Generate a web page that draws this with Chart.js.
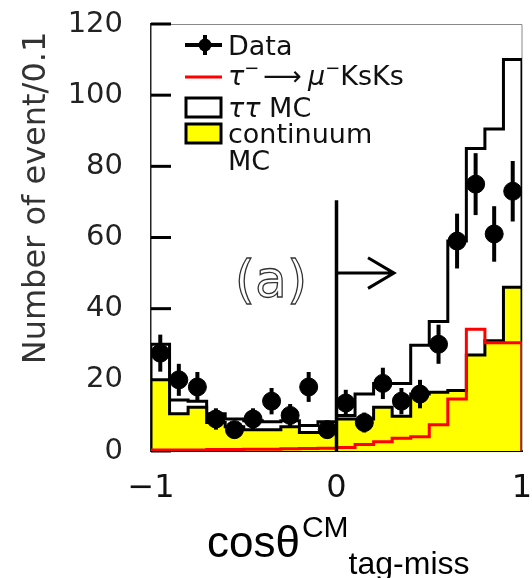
<!DOCTYPE html>
<html>
<head>
<meta charset="utf-8">
<script src="https://cdn.jsdelivr.net/npm/chart.js@4.4.1/dist/chart.umd.min.js"></script>
<style>
  html, body { margin: 0; padding: 0; background: #fff; }
  canvas { display: block; }
</style>
</head>
<body>
<canvas id="tagMiss" width="532" height="578"></canvas>
<script>
// bins of 0.1 in cos(theta) tag-miss
const binEdges = [-1, -0.9, -0.8, -0.7, -0.6, -0.5, -0.4, -0.3, -0.2, -0.1, 0,
  0.1, 0.2, 0.3, 0.4, 0.5, 0.6, 0.7, 0.8, 0.9, 1];
const binCenters = [-0.95, -0.85, -0.75, -0.65, -0.55, -0.45, -0.35, -0.25, -0.15, -0.05,
  0.05, 0.15, 0.25, 0.35, 0.45, 0.55, 0.65, 0.75, 0.85, 0.95];

const dataCounts = [27.5, 20, 18, 9, 6, 9, 14, 10, 18, 6,
  13.5, 8, 19, 14, 16, 30, 59, 75, 61, 73];
const dataErrors = [5.2, 4.5, 4.2, 3, 2.5, 3, 3.7, 3.2, 4.2, 2.5,
  3.7, 2.8, 4.4, 3.7, 4, 5.5, 7.7, 8.7, 7.8, 8.5];

// tau-tau MC stacked on top of continuum (outer outline)
const ttTotal = [30, 14.3, 14, 10.5, 9, 8.5, 8.2, 8.5, 7.2, 8.2,
  10, 16, 19, 19, 29.7, 36.4, 59, 85, 90.5, 110];
const continuum = [20, 10.5, 12.3, 8, 6.8, 6, 6, 6.8, 5.2, 5.2,
  9, 9, 12.3, 9.8, 16, 16.5, 17, 27, 31, 46];
const signal = [0.3, 0.3, 0.3, 0.4, 0.4, 0.5, 0.5, 0.6, 0.7, 0.8,
  1, 1.8, 2.6, 3.6, 4, 7.4, 14.6, 34.2, 30.4, 30.4];

const yTicks = [0, 20, 40, 60, 80, 100, 120];
const xTicks = [-1, 0, 1];

const FONT = "'DejaVu Sans', sans-serif";

function stepPoints(vals) {
  const last = binEdges.length - 1;
  const pts = [{ x: binEdges[0], y: 0 }];
  vals.forEach((v, i) => pts.push({ x: binEdges[i], y: v }));
  pts.push({ x: binEdges[last], y: vals[vals.length - 1] });
  pts.push({ x: binEdges[last], y: 0 });
  return pts;
}

// draw a row of text pieces one after another
function drawRuns(ctx, x, y, runs) {
  runs.forEach(r => {
    ctx.font = r.font;
    ctx.fillText(r.t, x, y + (r.dy || 0));
    x += ctx.measureText(r.t).width + (r.gap || 0);
  });
}

const framePlugin = {
  id: "frame",
  beforeDatasetsDraw(chart) {
    const { ctx, chartArea: a, scales: { y } } = chart;
    ctx.save();
    // thin frame on top and right
    ctx.strokeStyle = "#888";
    ctx.lineWidth = 1;
    ctx.beginPath();
    ctx.moveTo(a.left, a.top + 0.5);
    ctx.lineTo(a.right, a.top + 0.5);
    ctx.lineTo(a.right, a.bottom);
    ctx.stroke();
    // inward ticks on the y axis
    ctx.strokeStyle = "#000";
    ctx.lineWidth = 3;
    yTicks.forEach(t => {
      const py = y.getPixelForValue(t);
      ctx.beginPath();
      ctx.moveTo(a.left, py);
      ctx.lineTo(a.left + 20, py);
      ctx.stroke();
    });
    ctx.restore();
  },
  beforeDatasetDraw(chart, args) {
    if (args.index !== 0) return;
    // error bars under the data markers
    const { ctx, scales: { x, y } } = chart;
    ctx.save();
    ctx.strokeStyle = "#000";
    ctx.lineWidth = 4;
    binCenters.forEach((c, i) => {
      const px = x.getPixelForValue(c);
      ctx.beginPath();
      ctx.moveTo(px, y.getPixelForValue(dataCounts[i] - dataErrors[i]));
      ctx.lineTo(px, y.getPixelForValue(dataCounts[i] + dataErrors[i]));
      ctx.stroke();
    });
    ctx.restore();
  },
  afterDatasetsDraw(chart) {
    const { ctx, scales: { x, y } } = chart;
    ctx.save();
    // cut line at 0 with arrow
    ctx.strokeStyle = "#000";
    ctx.lineWidth = 3.5;
    ctx.beginPath();
    ctx.moveTo(x.getPixelForValue(0), y.getPixelForValue(70.5));
    ctx.lineTo(x.getPixelForValue(0), y.getPixelForValue(0));
    ctx.stroke();
    ctx.lineWidth = 3;
    ctx.beginPath();
    ctx.moveTo(x.getPixelForValue(0), y.getPixelForValue(50));
    ctx.lineTo(x.getPixelForValue(0.31), y.getPixelForValue(50));
    ctx.moveTo(x.getPixelForValue(0.17), y.getPixelForValue(54.3));
    ctx.lineTo(x.getPixelForValue(0.31), y.getPixelForValue(50));
    ctx.lineTo(x.getPixelForValue(0.17), y.getPixelForValue(45.7));
    ctx.stroke();
    ctx.restore();
  },
  afterDraw(chart) {
    const { ctx } = chart;
    ctx.save();
    ctx.fillStyle = "#111";
    ctx.textBaseline = "alphabetic";
    ctx.textAlign = "left";

    // (a) label, hollow look
    ctx.font = "52px " + FONT;
    ctx.textAlign = "center";
    ctx.strokeStyle = "#333";
    ctx.lineWidth = 1.3;
    ctx.strokeText("(a)", 271, 297);
    ctx.textAlign = "left";

    // legend symbols
    ctx.strokeStyle = "#000";
    ctx.lineWidth = 4;
    ctx.beginPath();
    ctx.moveTo(185, 45); ctx.lineTo(222, 45);
    ctx.moveTo(205, 35); ctx.lineTo(205, 55);
    ctx.stroke();
    ctx.beginPath();
    ctx.arc(205, 45, 6.5, 0, Math.PI * 2);
    ctx.fillStyle = "#000";
    ctx.fill();
    ctx.strokeStyle = "#ff0000";
    ctx.lineWidth = 3;
    ctx.beginPath();
    ctx.moveTo(185, 77); ctx.lineTo(222, 77);
    ctx.stroke();
    ctx.strokeStyle = "#000";
    ctx.lineWidth = 3;
    ctx.fillStyle = "#fff";
    ctx.fillRect(186, 98, 35, 19);
    ctx.strokeRect(186, 98, 35, 19);
    ctx.fillStyle = "#ffff00";
    ctx.fillRect(186, 124, 35, 19);
    ctx.strokeRect(186, 124, 35, 19);

    // legend text
    ctx.fillStyle = "#111";
    const f = "27px " + FONT, fi = "italic 27px " + FONT, fs = "18px " + FONT;
    drawRuns(ctx, 228, 55, [{ t: "Data", font: f }]);
    drawRuns(ctx, 228, 85, [
      { t: "τ", font: fi },
      { t: "−", font: fs, dy: -11, gap: 4 },
      { t: "⟶", font: f, gap: 6 },
      { t: "μ", font: fi },
      { t: "−", font: fs, dy: -11 },
      { t: "KsKs", font: f }
    ]);
    drawRuns(ctx, 228, 117, [{ t: "ττ", font: fi }, { t: " MC", font: f }]);
    drawRuns(ctx, 228, 143, [{ t: "continuum", font: f }]);
    drawRuns(ctx, 228, 170, [{ t: "MC", font: f }]);

    // y title
    ctx.save();
    ctx.translate(45, 198);
    ctx.rotate(-Math.PI / 2);
    ctx.textAlign = "center";
    ctx.fillStyle = "#333";
    ctx.font = "32px " + FONT;
    ctx.fillText("Number of event/0.1", 0, 0);
    ctx.restore();

    // x title
    ctx.fillStyle = "#000";
    const lib = "'Liberation Sans', Arial, sans-serif";
    ctx.font = "44px " + lib;
    ctx.fillText("cosθ", 207, 557);
    let px = 207 + ctx.measureText("cosθ").width + 2;
    ctx.font = "30px " + lib;
    ctx.fillText("CM", px, 537);
    px += ctx.measureText("CM").width;
    ctx.font = "32px " + lib;
    ctx.fillText("tag-miss", px, 574);
    ctx.restore();
  }
};

const ctx = document.getElementById("tagMiss").getContext("2d");

new Chart(ctx, {
  type: "line",
  data: {
    datasets: [
      {
        label: "Data",
        type: "scatter",
        data: binCenters.map((c, i) => ({ x: c, y: dataCounts[i] })),
        backgroundColor: "#000",
        borderColor: "#000",
        pointRadius: 9,
        pointHoverRadius: 9,
        showLine: false,
        order: 0
      },
      {
        label: "τ⁻→μ⁻KsKs",
        data: stepPoints(signal),
        stepped: true,
        borderColor: "#ff0000",
        borderWidth: 3,
        pointRadius: 0,
        fill: false,
        order: 1
      },
      {
        label: "continuum MC",
        data: stepPoints(continuum),
        stepped: true,
        borderColor: "#000",
        borderWidth: 3,
        backgroundColor: "#ffff00",
        pointRadius: 0,
        fill: "origin",
        order: 2
      },
      {
        label: "ττ MC",
        data: stepPoints(ttTotal),
        stepped: true,
        borderColor: "#000",
        borderWidth: 3,
        backgroundColor: "#ffffff",
        pointRadius: 0,
        fill: "origin",
        order: 3
      }
    ]
  },
  options: {
    responsive: false,
    animation: false,
    layout: { padding: { top: 24, right: 3, left: 0, bottom: 0 } },
    plugins: {
      legend: { display: false },
      tooltip: { enabled: false }
    },
    scales: {
      x: {
        type: "linear",
        min: -1,
        max: 1,
        afterBuildTicks: s => { s.ticks = xTicks.map(v => ({ value: v })); },
        afterFit: s => { s.height = 127; s.paddingLeft = 0; s.paddingRight = 0; },
        ticks: {
          padding: 18,
          maxRotation: 0,
          autoSkip: false,
          color: "#111",
          font: { family: FONT, size: 32 },
          callback: v => (v < 0 ? "\u2212" + Math.abs(v) : String(v))
        },
        grid: { display: false, drawTicks: false },
        border: { display: true, color: "#000", width: 2 }
      },
      y: {
        min: 0,
        max: 120,
        afterBuildTicks: s => { s.ticks = yTicks.map(v => ({ value: v })); },
        afterFit: s => { s.width = 151; s.paddingTop = 0; s.paddingBottom = 0; },
        ticks: {
          padding: 28,
          color: "#222",
          font: { family: FONT, size: 29 }
        },
        grid: { display: false, drawTicks: false },
        border: { display: true, color: "#222", width: 1.5 }
      }
    }
  },
  plugins: [framePlugin]
});
</script>
</body>
</html>
